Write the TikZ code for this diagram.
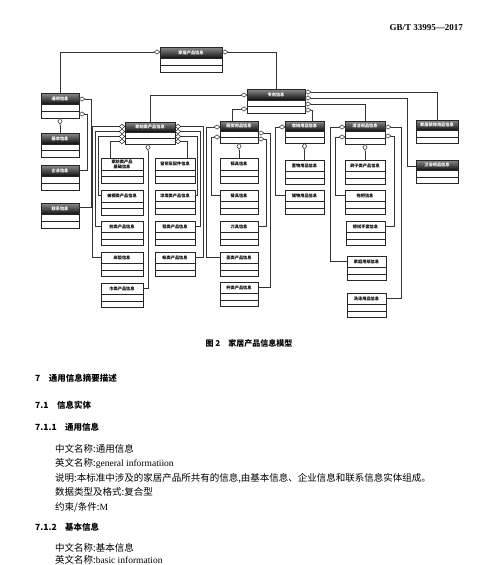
\documentclass[tikz,border=0pt]{standalone}
\usepackage{fontspec}
\setmainfont{Liberation Serif}
\newfontfamily\cjk{Noto Sans CJK SC}
\usetikzlibrary{shapes.geometric,calc}
\tikzset{
  box/.style={draw=black!85, line width=0.7pt, inner sep=0pt, outer sep=0pt},
  dlab/.style={text=white, font=\cjk\bfseries\fontsize{4.2}{5}\selectfont, inner sep=0pt},
  llab/.style={text=black, font=\cjk\bfseries\fontsize{4.2}{5}\selectfont, inner sep=0pt, align=center},
  dh/.style={diamond, draw=black!85, fill=white, line width=0.5pt, inner sep=0pt, minimum width=6pt, minimum height=4.5pt},
  dv/.style={diamond, draw=black!85, fill=white, line width=0.5pt, inner sep=0pt, minimum width=4.5pt, minimum height=6.5pt},
  conn/.style={draw=black!80, line width=0.6pt},
  body/.style={font=\fontsize{9.5}{11}\selectfont, inner sep=0pt, anchor=base west},
  head/.style={font=\cjk\bfseries\fontsize{8.5}{10}\selectfont, inner sep=0pt, anchor=base west},
}
\newcommand\dbox[6]{%
  \shade[top color=black!45, bottom color=black!95] (#2,#3) rectangle ++(#4,#5*0.46);
  \node[box, minimum width=#4pt, minimum height=#5pt, anchor=north west] (#1) at (#2,#3) {};
  \draw[black!85, line width=0.5pt] (#2,#3+#5*0.46) -- ++(#4,0) (#2,#3+#5*0.73) -- ++(#4,0);
  \node[dlab] at (#2+#4/2,#3+#5*0.23) {#6};
}
\newcommand\lbox[6]{%
  \node[box, minimum width=#4pt, minimum height=#5pt, anchor=north west] (#1) at (#2,#3) {};
  \draw[black!85, line width=0.5pt] (#2,#3+#5*0.48) -- ++(#4,0) (#2,#3+#5*0.74) -- ++(#4,0);
  \node[llab] at (#2+#4/2,#3+#5*0.24) {#6};
}
\begin{document}
\begin{tikzpicture}[x=1pt,y=-1pt]
\useasboundingbox[fill=white] (0,0) rectangle (500,565);

% header
\node[font=\bfseries\fontsize{9}{10}\selectfont, inner sep=0pt, anchor=base east] (std) at (463,30) {GB/T 33995\textemdash 2017};

% dark-header boxes
\dbox{root}{160}{47}{62}{25}{家居产品信息}
\dbox{tong}{41}{93}{38}{25}{通用信息}
\dbox{jiben}{41}{133}{38}{24}{基本信息}
\dbox{qiye}{41}{165}{38}{25}{企业信息}
\dbox{lianxi}{41}{203}{38}{25}{联系信息}
\dbox{zhuan}{247}{89}{58}{24}{专用信息}
\dbox{jiafang}{125}{122}{50}{22}{家纺类产品信息}
\dbox{chufang}{220}{121}{38}{22}{厨房用品信息}
\dbox{shouna}{285}{121}{39}{22}{收纳用品信息}
\dbox{qingjie}{345}{121}{40}{23}{清洁用品信息}
\dbox{zhuangshi}{416}{120}{42}{23}{家居装饰用品信息}
\dbox{weiyu}{416}{160}{42}{23}{卫浴用品信息}

% plain boxes
\lbox{jfjc}{101}{158}{42}{25}{家纺类产品\\基础信息}
\lbox{beiru}{101}{190}{42}{25}{被褥类产品信息}
\lbox{zhen}{101}{221}{42}{24}{枕类产品信息}
\lbox{chuangdian}{101}{252}{42}{24}{床垫信息}
\lbox{jin}{101}{283}{42}{24}{巾类产品信息}
\lbox{chuanglian}{155}{158}{40}{25}{窗帘及配件信息}
\lbox{liangxi}{155}{190}{40}{24}{凉席类产品信息}
\lbox{tan}{155}{221}{40}{24}{毯类产品信息}
\lbox{zhang}{155}{252}{40}{24}{帐类产品信息}
\lbox{guoju}{220}{158}{38}{25}{锅具信息}
\lbox{canju}{220}{190}{38}{24}{餐具信息}
\lbox{daoju}{220}{221}{38}{24}{刀具信息}
\lbox{hu}{220}{252}{38}{24}{壶类产品信息}
\lbox{bei}{220}{282}{38}{24}{杯类产品信息}
\lbox{zhiwu}{285}{160}{39}{24}{置物用品信息}
\lbox{chuwu}{285}{190}{39}{24}{储物用品信息}
\lbox{shuazi}{345}{160}{40}{24}{刷子类产品信息}
\lbox{tuoba}{345}{190}{40}{24}{拖把信息}
\lbox{cashi}{346}{221}{39}{24}{擦拭手套信息}
\lbox{zhi}{347}{256}{39}{24}{家庭用纸信息}
\lbox{xidi}{347}{293}{39}{24}{洗涤用品信息}

% diamonds
\node[dh] (rootL) at (157,52) {};
\node[dh] (rootR) at (225,52) {};
\node[dh] (tongR1) at (82,99) {};
\node[dh] (tongR2) at (82,114) {};
\node[dv] (tongB) at (60,121.25) {};
\node[dh] (zhuanL1) at (244,95) {};
\node[dh] (zhuanL2) at (244,109) {};
\node[dh] (zhuanR1) at (308,92) {};
\node[dh] (zhuanR2) at (308,98) {};
\node[dh] (zhuanR3) at (308,104) {};
\node[dh] (zhuanR4) at (308,110) {};
\node[dh] (jfL1) at (122,126.5) {};
\node[dh] (jfL2) at (122,131.5) {};
\node[dh] (jfL3) at (122,136.5) {};
\node[dh] (jfL4) at (122,141.5) {};
\node[dh] (jfR1) at (178,126.5) {};
\node[dh] (jfR2) at (178,131.5) {};
\node[dh] (jfR3) at (178,136.5) {};
\node[dh] (jfR4) at (178,141.5) {};
\node[dv] (jfB) at (148,147.25) {};
\node[dh] (cfL1) at (217,127) {};
\node[dh] (cfL2) at (217,137) {};
\node[dh] (cfR1) at (261,133) {};
\node[dh] (cfR2) at (261,139) {};
\node[dv] (cfB) at (239,146.25) {};
\node[dh] (snL) at (282,127) {};
\node[dv] (snB) at (304.5,146.25) {};
\node[dh] (qjL1) at (342,127) {};
\node[dh] (qjL2) at (342,137) {};
\node[dh] (qjR1) at (388,127) {};
\node[dh] (qjR2) at (388,136) {};
\node[dv] (qjB) at (365,147.25) {};

% connectors
\draw[conn] (rootL.west) -| (tong.north);
\draw[conn] (rootR.east) -| (zhuan.north);
\draw[conn] (tongB.south) -- (jiben.north);
\draw[conn] (tongR1.east) -- ++(6,0) |- ($(lianxi.north east)+(0,4)$);
\draw[conn] (tongR2.east) -- ++(2.5,0) |- ($(qiye.north east)+(0,5)$);

\draw[conn] (zhuanL1.west) -| (jiafang.north);
\draw[conn] (zhuanL2.west) -| ($(chufang.north)+(-7,0)$);
\draw[conn] (zhuanR1.east) -| (zhuangshi.north);
\draw[conn] (zhuanR2.east) -- ++(96,0) |- ($(weiyu.north west)+(0,6)$);
\draw[conn] (zhuanR3.east) -| (qingjie.north);
\draw[conn] (zhuanR4.east) -| ($(shouna.north)+(8,0)$);

\draw[conn] (jfL1.west) -- ++(-26,0) |- ($(chuangdian.north west)+(0,5)$);
\draw[conn] (jfL2.west) -- ++(-23,0) |- ($(zhen.north west)+(0,5)$);
\draw[conn] (jfL3.west) -- ++(-20.5,0) |- ($(beiru.north west)+(0,5)$);
\draw[conn] (jfL4.west) -| ($(jfjc.north west)+(9,0)$);
\draw[conn] (jfR1.east) -- ++(22,0) |- ($(zhang.north east)+(0,5)$);
\draw[conn] (jfR2.east) -- ++(19,0) |- ($(tan.north east)+(0,5)$);
\draw[conn] (jfR3.east) -- ++(16.5,0) |- ($(liangxi.north east)+(0,5)$);
\draw[conn] (jfR4.east) -| ($(chuanglian.north east)+(-8,0)$);
\draw[conn] (jfB.south) |- ($(jin.north east)+(0,5)$);

\draw[conn] (cfL1.west) -- ++(-7,0) |- ($(hu.north west)+(0,5)$);
\draw[conn] (cfL2.west) -- ++(-2.5,0) |- ($(canju.north west)+(0,5)$);
\draw[conn] (cfR1.east) -- ++(6,0) |- ($(bei.north east)+(0,5)$);
\draw[conn] (cfR2.east) -- ++(2.5,0) |- ($(daoju.north east)+(0,5)$);
\draw[conn] (cfB.south) -- (guoju.north);

\draw[conn] (snL.west) -- ++(-3,0) |- ($(chuwu.north west)+(0,5)$);
\draw[conn] (snB.south) -- (zhiwu.north);

\draw[conn] (qjL1.west) -- ++(-8,0) |- ($(zhi.north west)+(0,5)$);
\draw[conn] (qjL2.west) -- ++(-3,0) |- ($(tuoba.north west)+(0,5)$);
\draw[conn] (qjR1.east) -- ++(10,0) |- ($(xidi.north east)+(0,5)$);
\draw[conn] (qjR2.east) -- ++(3,0) |- ($(cashi.north east)+(0,5)$);
\draw[conn] (qjB.south) -- (shuazi.north);

% caption and text
\node[font=\cjk\bfseries\fontsize{8}{10}\selectfont, inner sep=0pt, anchor=base] (cap) at (249,346) {图 2\quad 家居产品信息模型};
\node[head] (h7) at (35,381) {7\quad 通用信息摘要描述};
\node[head] (h71) at (35,408) {7.1\quad 信息实体};
\node[head] (h711) at (35,430) {7.1.1\quad 通用信息};
\node[body] (l1) at (55,452.5) {\cjk 中文名称:通用信息};
\node[body] (l2) at (55,466.5) {{\cjk 英文名称:}general informatiion};
\node[body] (l3) at (55,481.5) {\cjk 说明:本标准中涉及的家居产品所共有的信息,由基本信息、企业信息和联系信息实体组成。};
\node[body] (l4) at (55,495.5) {\cjk 数据类型及格式:复合型};
\node[body] (l5) at (55,510.5) {{\cjk 约束/条件:}M};
\node[head] (h712) at (35,530) {7.1.2\quad 基本信息};
\node[body] (l6) at (55,551.5) {\cjk 中文名称:基本信息};
\node[body] (l7) at (55,563.5) {{\cjk 英文名称:}basic information};
\end{tikzpicture}
\end{document}
